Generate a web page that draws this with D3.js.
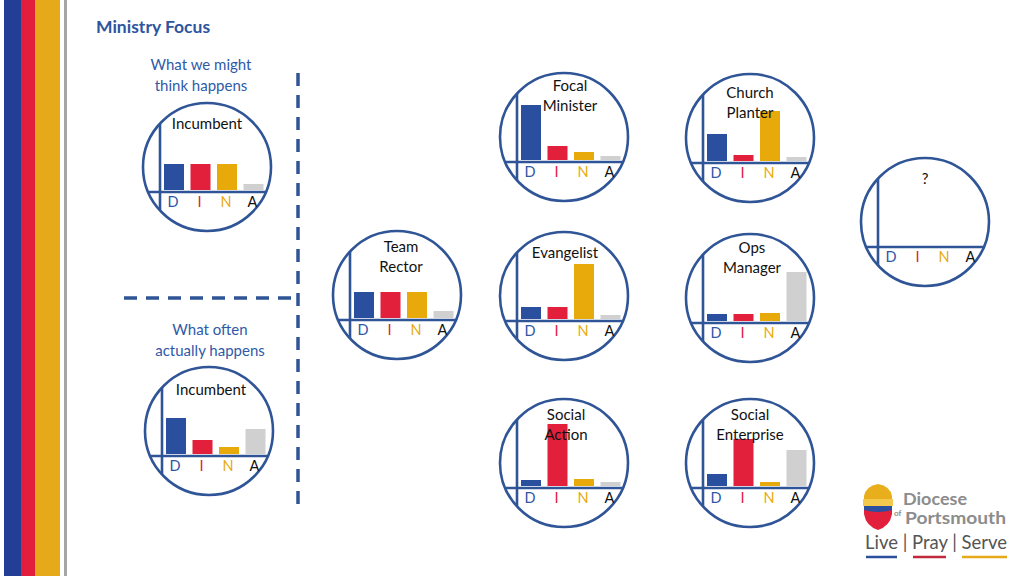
<!DOCTYPE html>
<html><head><meta charset="utf-8">
<script src="https://cdn.jsdelivr.net/npm/d3@7"></script>
<style>body{margin:0;background:#fff;overflow:hidden} svg{display:block}</style>
</head><body><svg id="c" width="1024" height="576"></svg>
<script>
// ---------- DATA ----------
const categories = ["D", "I", "N", "A"];
const panelTitles = [
  ["Incumbent"], ["Incumbent"], ["Team", "Rector"], ["Focal", "Minister"],
  ["Church", "Planter"], ["Evangelist"], ["Ops", "Manager"],
  ["Social", "Action"], ["Social", "Enterprise"], ["?"]
];
// relative emphasis per role (D, I, N, A)
const valuesD = [26, 36, 26, 55, 27, 12, 7, 6, 12, null];
const valuesI = [26, 14, 26, 14, 6, 12, 7, 62, 47, null];
const valuesN = [26, 7, 26, 8, 50, 55, 8, 7, 4, null];
const valuesA = [6, 25, 7, 4, 4, 4, 49, 4, 36, null];
const sectionLabels = [["What we might", "think happens"], ["What often", "actually happens"]];
const pageTitle = "Ministry Focus";

// ---------- LAYOUT ----------
const centers = [[207,167],[209,431],[397,295],[564,137],[750,138],[564,296],[750,298],[564,463],[750,463],[925,222]];
const titleDy = [[-43],[-41],[-48,-28],[-51,-31],[-45,-25],[-43],[-50,-30],[-48,-28],[-48,-28],[-43]];
const titleDx = [0,2,4,6,0,1,2,2,0,0];
const R = 64;

const col = {D:"#2A4F9F", I:"#E2203C", N:"#E8A90A", A:"#D0D0D0"};
const labCol = {D:"#2F55A4", I:"#E2203C", N:"#E8A90A", A:"#111"};
const ringCol = "#2F5597";
const font = "Lato, 'Open Sans', sans-serif";

const svg = d3.select("#c");
svg.append("rect").attr("width",1024).attr("height",576).attr("fill","#fff");

// side stripes
[[4,17,"#233F95"],[21,14,"#E31E3C"],[35,25,"#E6A91A"],[64,3,"#A6A6A6"]].forEach(s=>{
  svg.append("rect").attr("x",s[0]).attr("y",0).attr("width",s[1]).attr("height",576).attr("fill",s[2]);
});

svg.append("text").attr("x",96).attr("y",33).attr("font-family",font).attr("font-weight",700)
  .attr("font-size",17.5).attr("fill","#2E55A0").text(pageTitle);

// section labels
const secPos = [[201,65],[210,330]];
sectionLabels.forEach((lines,k)=>{
  lines.forEach((t,j)=>{
    svg.append("text").attr("x",secPos[k][0]).attr("y",secPos[k][1]+j*21).attr("dy","0.35em")
      .attr("text-anchor","middle").attr("font-family",font).attr("font-size",15)
      .attr("fill","#2F5AA8").text(t);
  });
});

// dashed dividers
svg.append("line").attr("x1",298).attr("x2",298).attr("y1",73).attr("y2",506)
  .attr("stroke","#2F5597").attr("stroke-width",3.5).attr("stroke-dasharray","13,9");
svg.append("line").attr("x1",124).attr("x2",296).attr("y1",298).attr("y2",298)
  .attr("stroke","#2F5597").attr("stroke-width",3.5).attr("stroke-dasharray","13,9");

const valueSets = [valuesD, valuesI, valuesN, valuesA];
const y = d3.scaleLinear().domain([0, 65]).range([0, 65]);

panelTitles.forEach((title, i)=>{
  const [cx, cy] = centers[i];
  const g = svg.append("g");
  const vx = cx - 47, ay = cy + 25;
  const hw = Math.sqrt(R*R - 25*25), hh = Math.sqrt(R*R - 47*47);
  g.append("circle").attr("cx",cx).attr("cy",cy).attr("r",R).attr("fill","none")
    .attr("stroke",ringCol).attr("stroke-width",2.6);
  g.append("line").attr("x1",cx-hw).attr("x2",cx+hw).attr("y1",ay).attr("y2",ay)
    .attr("stroke",ringCol).attr("stroke-width",2.6);
  g.append("line").attr("x1",vx).attr("x2",vx).attr("y1",cy-hh).attr("y2",cy+hh)
    .attr("stroke",ringCol).attr("stroke-width",2.6);

  const x = d3.scaleBand().domain(categories).range([vx+0.75, vx+106.75])
    .paddingInner(0.245).paddingOuter(0.1225);
  const base = ay - 2;
  const rows = categories.map((c,k)=>({c, v: valueSets[k][i]})).filter(d=>d.v!=null);
  g.selectAll("rect.bar").data(rows).enter().append("rect")
    .attr("x",d=>x(d.c)).attr("width",x.bandwidth())
    .attr("y",d=>base - y(d.v)).attr("height",d=>y(d.v))
    .attr("fill",d=>col[d.c]);

  g.selectAll("text.lab").data(categories).enter().append("text")
    .attr("x",d=>x(d)+x.bandwidth()/2-1).attr("y",ay+10).attr("dy","0.35em")
    .attr("text-anchor","middle").attr("font-family",font).attr("font-size",14.5)
    .attr("fill",d=>labCol[d]).text(d=>d);

  title.forEach((t,j)=>{
    g.append("text").attr("x",cx+titleDx[i]).attr("y",cy+titleDy[i][j]).attr("dy","0.35em")
      .attr("text-anchor","middle").attr("font-family",font).attr("font-size",15)
      .attr("fill","#111").text(t);
  });
});

// logo
const lg = svg.append("g");
lg.append("path").attr("d","M864,496 Q866,486 878,484 Q890,486 892,496 L892,506 L864,506 Z").attr("fill","#E8AE1C");
lg.append("rect").attr("x",863).attr("y",499).attr("width",30).attr("height",7).attr("fill","#F2C94C");
lg.append("path").attr("d","M864,506 L892,506 L892,514 Q890,526 878,530 Q866,526 864,514 Z").attr("fill","#E2203C");
lg.append("path").attr("d","M864,506 L892,506 L892,510 Q878,514 864,510 Z").attr("fill","#2A4F9F");
lg.append("text").attr("x",903).attr("y",505).attr("font-family",font).attr("font-size",17)
  .attr("font-weight",700).attr("fill","#8C8C8C").attr("textLength",64)
  .attr("lengthAdjust","spacingAndGlyphs").text("Diocese");
lg.append("text").attr("x",894).attr("y",516).attr("font-family",font).attr("font-size",8)
  .attr("font-weight",700).attr("fill","#8C8C8C").text("of");
lg.append("text").attr("x",905).attr("y",524).attr("font-family",font).attr("font-size",17)
  .attr("font-weight",700).attr("fill","#8C8C8C").attr("textLength",101)
  .attr("lengthAdjust","spacingAndGlyphs").text("Portsmouth");
lg.append("text").attr("x",865).attr("y",549).attr("font-family",font).attr("font-size",20)
  .attr("fill","#555").attr("textLength",142).attr("lengthAdjust","spacingAndGlyphs").text("Live | Pray | Serve");
[[866,897,"#2A4F9F"],[913,946,"#C0283C"],[962,1007,"#E6A91A"]].forEach(u=>{
  lg.append("line").attr("x1",u[0]).attr("x2",u[1]).attr("y1",557).attr("y2",557)
    .attr("stroke",u[2]).attr("stroke-width",2.5);
});
</script></body></html>
